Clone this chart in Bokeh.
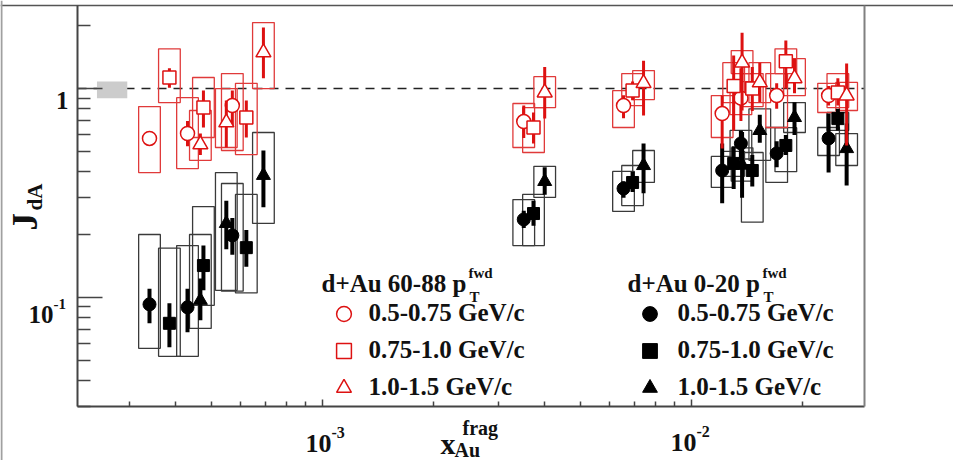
import math

from bokeh.embed import file_html
from bokeh.models import (ColumnDataSource, FixedTicker, Label, Legend,
                          LegendItem, LogAxis)
from bokeh.plotting import figure
from bokeh.resources import INLINE

# ---------------------------------------------------------------- data
# x_Au^frag positions for the three associated-pT bins
x_pt1 = [3.40e-4, 4.31e-4, 5.70e-4, 3.51e-3, 6.54e-3, 1.21e-2, 1.36e-2, 1.70e-2, 2.35e-2]
x_pt2 = [3.85e-4, 4.76e-4, 6.22e-4, 3.73e-3, 6.92e-3, 1.30e-2, 1.46e-2, 1.80e-2, 2.49e-2]
x_pt3 = [4.67e-4, 5.49e-4, 6.92e-4, 4.00e-3, 7.41e-3, 1.37e-2, 1.53e-2, 1.90e-2, 2.63e-2]

# d+Au 60-88 (peripheral): J_dA, statistical range, systematic range
per_pt1_y = [0.577, 0.609, 0.829, 0.695, 0.829, 0.759, 0.90, 0.926, 0.926]
per_pt1_stat_lo = [0.546, 0.53, 0.66, 0.58, 0.72, 0.516, 0.70, 0.80, 0.83]
per_pt1_stat_hi = [0.609, 0.70, 0.98, 0.83, 0.93, 0.926, 1.25, 1.06, 1.03]
per_pt1_sys_lo = [0.396, 0.414, 0.505, 0.522, 0.651, 0.583, 0.75, 0.651, 0.768]
per_pt1_sys_hi = [0.820, 0.905, 1.18, 0.848, 0.978, 0.926, 1.08, 1.18, 1.06]

per_pt2_y = [1.13, 0.811, 0.727, 0.651, 0.978, 1.03, 1.0, 1.35, 0.957]
per_pt2_stat_lo = [1.01, 0.651, 0.583, 0.546, 0.88, 0.63, 0.78, 1.0, 0.83]
per_pt2_stat_hi = [1.25, 0.978, 0.876, 0.768, 1.08, 1.44, 1.27, 1.7, 1.12]
per_pt2_sys_lo = [0.857, 0.583, 0.483, 0.494, 0.829, 0.857, 0.82, 1.18, 0.811]
per_pt2_sys_hi = [1.55, 1.13, 1.06, 0.811, 1.18, 1.33, 1.18, 1.55, 1.18]

per_pt3_y = [0.540, 0.688, 1.49, 0.957, 1.06, 1.33, 1.07, 1.12, 0.926]
per_pt3_stat_lo = [0.48, 0.522, 1.12, 0.718, 0.743, 0.785, 0.86, 0.95, 0.534]
per_pt3_stat_hi = [0.61, 0.876, 1.96, 1.27, 1.36, 1.85, 1.33, 1.39, 1.32]
per_pt3_sys_lo = [0.453, 0.522, 1.0, 0.811, 0.886, 1.18, 0.857, 0.926, 0.785]
per_pt3_sys_hi = [0.785, 1.0, 2.07, 1.14, 1.22, 1.52, 1.33, 1.39, 1.07]

# d+Au 0-20 (central)
cen_pt1_y = [0.0926, 0.0896, 0.198, 0.236, 0.332, 0.405, 0.546, 0.489, 0.577]
cen_pt1_stat_lo = [0.0751, 0.068, 0.16, 0.215, 0.30, 0.282, 0.46, 0.42, 0.396]
cen_pt1_stat_hi = [0.110, 0.110, 0.24, 0.26, 0.36, 0.546, 0.63, 0.56, 0.759]
cen_pt1_sys_lo = [0.057, 0.0522, 0.107, 0.177, 0.258, 0.336, 0.46, 0.355, 0.478]
cen_pt1_sys_hi = [0.200, 0.177, 0.351, 0.294, 0.401, 0.473, 0.63, 0.651, 0.651]

cen_pt2_y = [0.0751, 0.142, 0.173, 0.252, 0.355, 0.438, 0.405, 0.534, 0.718]
cen_pt2_stat_lo = [0.0577, 0.108, 0.14, 0.22, 0.32, 0.33, 0.34, 0.48, 0.63]
cen_pt2_stat_hi = [0.0936, 0.177, 0.21, 0.29, 0.40, 0.53, 0.48, 0.60, 0.80]
cen_pt2_sys_lo = [0.0522, 0.0916, 0.105, 0.177, 0.275, 0.38, 0.229, 0.40, 0.63]
cen_pt2_sys_hi = [0.172, 0.272, 0.311, 0.311, 0.428, 0.50, 0.494, 0.65, 0.768]

cen_pt3_y = [0.0968, 0.226, 0.384, 0.359, 0.428, 0.43, 0.63, 0.727, 0.516]
cen_pt3_stat_lo = [0.0776, 0.17, 0.270, 0.31, 0.315, 0.30, 0.55, 0.60, 0.343]
cen_pt3_stat_hi = [0.123, 0.29, 0.505, 0.42, 0.546, 0.62, 0.75, 0.86, 0.68]
cen_pt3_sys_lo = [0.071, 0.108, 0.226, 0.301, 0.355, 0.36, 0.453, 0.616, 0.428]
cen_pt3_sys_hi = [0.200, 0.396, 0.616, 0.424, 0.505, 0.52, 0.80, 0.857, 0.609]

pt_labels = ["0.5-0.75 GeV/c", "0.75-1.0 GeV/c", "1.0-1.5 GeV/c"]

# axis ticks
x_major = [1e-3, 1e-2]
x_minor = [3e-4, 4e-4, 5e-4, 6e-4, 7e-4, 8e-4, 9e-4,
           2e-3, 3e-3, 4e-3, 5e-3, 6e-3, 7e-3, 8e-3, 9e-3, 2e-2]
y_major = [0.1, 1.0]
y_minor = [0.03, 0.04, 0.05, 0.06, 0.07, 0.08, 0.09,
           0.2, 0.3, 0.4, 0.5, 0.6, 0.7, 0.8, 0.9, 2.0]

# global normalisation uncertainty band at J_dA = 1
norm_x = (2.45e-4, 2.96e-4)
norm_y = (0.90, 1.08)

# ---------------------------------------------------------------- layout
W, H = 953, 460
# pixel box of the axes area on the canvas, and the data range it spans
FL, FR, FT, FB = 77, 864, 5, 406
X_RANGE = (2.17e-4, 2.94e-2)
Y_RANGE = (0.03, 2.5)
BOX_HALF = 1.07  # multiplicative half-width of systematic boxes

LX0, LX1 = math.log10(X_RANGE[0]), math.log10(X_RANGE[1])
LY0, LY1 = math.log10(Y_RANGE[0]), math.log10(Y_RANGE[1])


def px_to_x(px):
    return 10 ** (LX0 + (px - FL) / (FR - FL) * (LX1 - LX0))


def py_to_y(py):
    return 10 ** (LY1 - (py - FT) / (FB - FT) * (LY1 - LY0))


# the frame covers the whole canvas; axes are pinned at the plot edges
p = figure(width=W, height=H, x_axis_type="log", y_axis_type="log",
           x_axis_location=None, y_axis_location=None,
           x_range=(px_to_x(0), px_to_x(W)), y_range=(py_to_y(H), py_to_y(0)),
           output_backend="svg", toolbar_location=None, min_border=0)
p.grid.visible = False
p.outline_line_color = None
p.background_fill_color = "white"
p.border_fill_color = "white"


def pinned_axis(side, loc, bounds, major=(), minor=(), t_major=0, t_minor=0,
                color="#444444", width=2):
    ax = LogAxis(fixed_location=loc, bounds=bounds,
                 ticker=FixedTicker(ticks=list(major), minor_ticks=list(minor)),
                 axis_line_color=color, axis_line_width=width,
                 major_tick_line_color=color, minor_tick_line_color=color,
                 major_tick_line_width=1.5, minor_tick_line_width=1.5,
                 major_tick_in=t_major, major_tick_out=0,
                 minor_tick_in=t_minor, minor_tick_out=0,
                 major_label_text_alpha=0, major_label_text_font_size="1px",
                 major_label_standoff=0)
    p.add_layout(ax, side)
    return ax


pinned_axis("below", Y_RANGE[0], X_RANGE, x_major, x_minor, 7, 5)
pinned_axis("left", X_RANGE[0], Y_RANGE, y_major, y_minor, 25, 13)
pinned_axis("right", X_RANGE[1], Y_RANGE, color="#808080")
pinned_axis("above", Y_RANGE[1], (px_to_x(0), px_to_x(W)), color="#555555", width=1.6)
pinned_axis("left", px_to_x(1.2), (py_to_y(H), py_to_y(0)), color="#a0a0a0", width=2)

# reference line at unity and normalisation band
p.segment(x0=[X_RANGE[0]], x1=[X_RANGE[1]], y0=[1.0], y1=[1.0],
          line_color="#222222", line_width=1.5, line_dash="9 7")
p.quad(left=[norm_x[0]], right=[norm_x[1]], bottom=[norm_y[0]], top=[norm_y[1]],
       fill_color="#cccccc", line_color=None)

RED = "#dd1111"
RED_BOX = "#e03a3a"
BLACK = "#000000"
BLACK_BOX = "#3a3a3a"

per = [
    (x_pt1, per_pt1_y, per_pt1_stat_lo, per_pt1_stat_hi, per_pt1_sys_lo, per_pt1_sys_hi, "circle", 14),
    (x_pt2, per_pt2_y, per_pt2_stat_lo, per_pt2_stat_hi, per_pt2_sys_lo, per_pt2_sys_hi, "square", 13),
    (x_pt3, per_pt3_y, per_pt3_stat_lo, per_pt3_stat_hi, per_pt3_sys_lo, per_pt3_sys_hi, "triangle", 15),
]
cen = [
    (x_pt1, cen_pt1_y, cen_pt1_stat_lo, cen_pt1_stat_hi, cen_pt1_sys_lo, cen_pt1_sys_hi, "circle", 13),
    (x_pt2, cen_pt2_y, cen_pt2_stat_lo, cen_pt2_stat_hi, cen_pt2_sys_lo, cen_pt2_sys_hi, "square", 12),
    (x_pt3, cen_pt3_y, cen_pt3_stat_lo, cen_pt3_stat_hi, cen_pt3_sys_lo, cen_pt3_sys_hi, "triangle", 14),
]


def sources(series):
    out = []
    for x, y, slo, shi, ylo, yhi, marker, size in series:
        out.append(ColumnDataSource(dict(
            x=x, y=y, slo=slo, shi=shi, ylo=ylo, yhi=yhi,
            xl=[v / BOX_HALF for v in x], xr=[v * BOX_HALF for v in x])))
    return out


per_src = sources(per)
cen_src = sources(cen)

# systematic boxes
for src in cen_src:
    p.quad(left="xl", right="xr", bottom="ylo", top="yhi", source=src,
           fill_color=None, line_color=BLACK_BOX, line_width=1.3)
for src in per_src:
    p.quad(left="xl", right="xr", bottom="ylo", top="yhi", source=src,
           fill_color=None, line_color=RED_BOX, line_width=1.3)

# statistical bars and markers
cen_r = []
for src, s in zip(cen_src, cen):
    p.segment(x0="x", y0="slo", x1="x", y1="shi", source=src, line_color=BLACK, line_width=4)
    cen_r.append(p.scatter("x", "y", source=src, marker=s[6], size=s[7],
                           fill_color=BLACK, line_color=BLACK, line_width=1))
per_r = []
for src, s in zip(per_src, per):
    p.segment(x0="x", y0="slo", x1="x", y1="shi", source=src, line_color=RED, line_width=3)
    per_r.append(p.scatter("x", "y", source=src, marker=s[6], size=s[7],
                           fill_color="white", line_color=RED, line_width=1.5))

FONT = "Liberation Serif"


def make_legend(renderers, loc, standoff):
    leg = Legend(items=[LegendItem(label=t, renderers=[r]) for t, r in zip(pt_labels, renderers)],
                 location=loc, orientation="vertical",
                 border_line_color=None, background_fill_alpha=0,
                 padding=0, margin=0, spacing=0,
                 glyph_width=37, glyph_height=37, label_height=37,
                 label_standoff=standoff,
                 label_text_font=FONT, label_text_font_style="bold",
                 label_text_font_size="25px", label_text_color="#111111")
    p.add_layout(leg)


make_legend(per_r, (324.5, 54.5), 7)
make_legend(cen_r, (630.5, 54.5), 10)


def text(t, px, py, size, align="left", baseline="alphabetic", angle=0.0):
    p.add_layout(Label(x=px_to_x(px), y=py_to_y(py), text=t,
                       text_font=FONT, text_font_style="bold",
                       text_font_size=f"{size}px", text_color="#111111",
                       text_align=align, text_baseline=baseline, angle=angle))


# legend headers
text("d+Au 60-88 p", 321, 283, 25)
text("fwd", 468, 272, 15)
text("T", 469, 296, 15)
text("d+Au 0-20 p", 627, 283, 25)
text("fwd", 762, 272, 15)
text("T", 763, 296, 15)

# tick labels
text("1", 68, 100, 25, align="right")
text("10", 53, 314, 25, align="right")
text("-1", 53, 303, 15)
text("10", 331, 443, 26, align="right")
text("-3", 331, 432, 16)
text("10", 696, 442, 26, align="right")
text("-2", 696, 431, 16)

# axis titles
text("J", 25, 230, 35, angle=math.pi / 2)
text("dA", 34, 210, 21, angle=math.pi / 2)
text("x", 440, 443, 30)
text("frag", 462, 427, 20)
text("Au", 454, 449, 20)

open("out.html", "w").write(file_html(p, INLINE))
